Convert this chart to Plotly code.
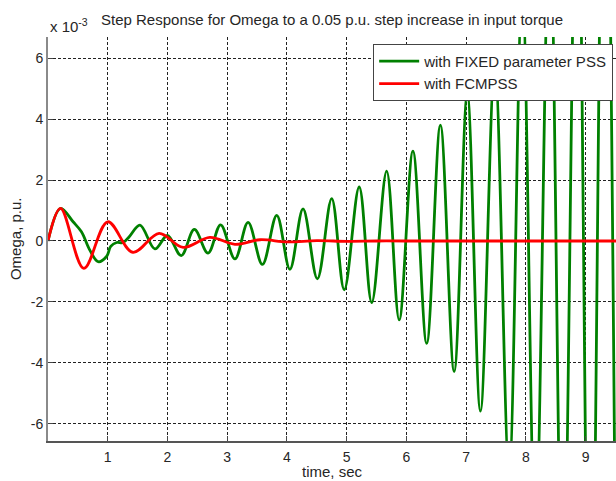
import plotly.graph_objects as go

# Rotor speed deviation (x 10^-3 p.u.) after a 0.05 p.u. step in input torque.
# Key points (peaks, troughs, knees) of each response; drawn as smooth splines.
t_fixed = [0.00, 0.21, 0.42, 0.56, 0.70, 0.84, 0.98, 1.05, 1.15, 1.26, 1.36,
           1.54, 1.79, 2.00, 2.23, 2.45, 2.68, 2.89, 3.13, 3.35, 3.59, 3.83,
           4.05, 4.27, 4.51, 4.75, 4.96, 5.21, 5.42, 5.67, 5.88, 6.11, 6.34,
           6.57, 6.80, 7.02, 7.24, 7.48, 7.72, 7.94, 8.16, 8.40, 8.62, 8.86,
           9.08, 9.32, 9.54]
omega_fixed = [0.00, 1.07, 0.63, 0.30, -0.30, -0.68, -0.51, -0.18, -0.05, -0.05, 0.14,
               0.52, -0.26, 0.18, -0.48, 0.38, -0.40, 0.53, -0.59, 0.61, -0.77, 0.84,
               -0.93, 1.05, -1.24, 1.39, -1.60, 1.77, -2.02, 2.29, -2.59, 2.95, -3.36,
               3.80, -4.28, 4.82, -5.58, 5.80, -7.60, 8.30, -9.80, 10.60, -12.60, 13.60,
               -16.20, 17.40, -21.00]

t_fcm = [0.00, 0.21, 0.60, 1.00, 1.42, 1.86, 2.26, 2.71, 3.13, 3.55, 4.00,
         4.50, 5.00, 5.50, 6.00, 7.00, 8.00, 9.00, 9.60]
omega_fcm = [0.00, 1.07, -0.90, 0.63, -0.37, 0.25, -0.21, 0.12, -0.11, 0.04, -0.03,
             0.01, -0.01, 0.00, 0.00, 0.00, 0.00, 0.00, 0.00]

x_ticks = [1, 2, 3, 4, 5, 6, 7, 8, 9]
y_ticks = [-6, -4, -2, 0, 2, 4, 6]

FONT = "Liberation Sans, Arial, sans-serif"
TEXT = "#262626"
GREEN = "#008000"
RED = "#ff0000"

fig = go.Figure()
fig.add_trace(go.Scatter(
    x=t_fixed, y=omega_fixed, mode="lines", name="with FIXED parameter PSS",
    line=dict(color=GREEN, width=2.8, shape="spline", smoothing=1.0),
))
fig.add_trace(go.Scatter(
    x=t_fcm, y=omega_fcm, mode="lines", name="with FCMPSS",
    line=dict(color=RED, width=2.8, shape="spline", smoothing=1.0),
))

axis_common = dict(
    showgrid=True, gridcolor="#222222", griddash="3px,2px", gridwidth=1,
    zeroline=False, ticks="inside", ticklen=5, tickcolor="#444444",
    tickfont=dict(family=FONT, size=14, color=TEXT),
    mirror=False, showline=True,
)

fig.update_xaxes(range=[0, 9.51], tickvals=x_ticks, ticktext=[str(v) for v in x_ticks],
                 linecolor="#555555", linewidth=1.5, ticklabelstandoff=2, **axis_common)
fig.update_yaxes(range=[-6.56, 6.69], tickvals=y_ticks, ticktext=[str(v) for v in y_ticks],
                 linecolor="#8a8a8a", linewidth=2, **axis_common)

fig.update_layout(
    width=616, height=481,
    margin=dict(l=48, r=0, t=37, b=40),
    paper_bgcolor="white", plot_bgcolor="white",
    font=dict(family=FONT, size=15, color=TEXT),
    title=dict(text="Step Response for Omega to a 0.05 p.u. step increase in input torque",
               x=0.5, xref="paper", xanchor="center",
               y=1 - 20 / 481, yref="container", yanchor="middle",
               font=dict(family=FONT, size=15, color=TEXT)),
    showlegend=True,
    legend=dict(x=0.995, xanchor="right", y=0.983, yanchor="top",
                bgcolor="white", bordercolor="#444444", borderwidth=1,
                font=dict(family=FONT, size=15, color=TEXT),
                tracegroupgap=0, itemwidth=40),
    annotations=[
        dict(text="x 10<sup>-3</sup>", xref="paper", yref="paper", x=0, y=1,
             xanchor="left", yanchor="bottom", yshift=0, showarrow=False,
             font=dict(family=FONT, size=15, color=TEXT)),
        dict(text="Omega, p.u.", xref="paper", yref="paper", x=-0.058, y=0.5,
             xanchor="center", yanchor="middle", textangle=-90, showarrow=False,
             font=dict(family=FONT, size=15, color=TEXT)),
        dict(text="time, sec", xref="paper", yref="paper", x=0.5, y=-0.076,
             xanchor="center", yanchor="middle", showarrow=False,
             font=dict(family=FONT, size=15, color=TEXT)),
    ],
)

fig.write_html("out.html")
